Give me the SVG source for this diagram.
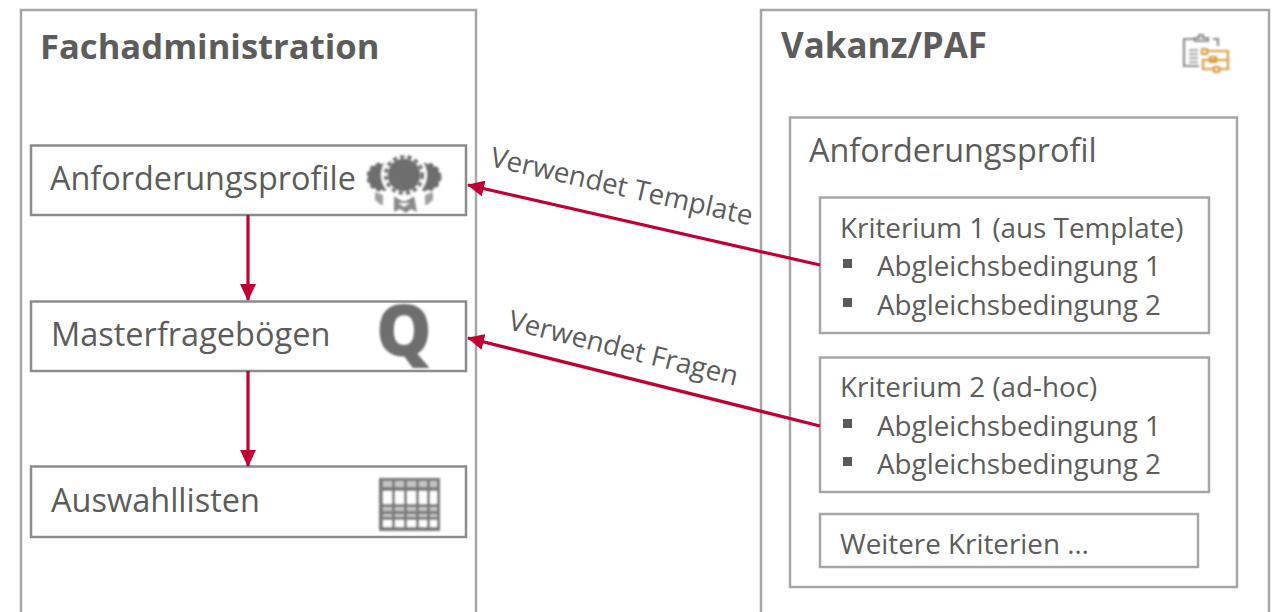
<svg xmlns="http://www.w3.org/2000/svg" width="1281" height="612" viewBox="0 0 1281 612">
<style>
.b{fill:#fff;stroke:#a6a6a6;stroke-width:2.5}
.d{fill:#fff;stroke:#8c8c8c;stroke-width:2.5}
text{font-family:"Open Sans","Noto Sans","Liberation Sans",sans-serif;fill:#5c5c5c}
.h{font-size:34.6px;font-weight:700}
.t{font-size:32.4px}
.s{font-size:27.8px}
.l{font-size:27.7px}
.c{stroke:#c00033;stroke-width:3.2;fill:none}
.bul{fill:#595959}
</style>
<defs>
<marker id="a" markerUnits="userSpaceOnUse" markerWidth="18" markerHeight="16" refX="16" refY="8" orient="auto"><path d="M0 0L17 8L0 16Z" fill="#c00033"/></marker>
<filter id="bl" x="-10%" y="-10%" width="120%" height="120%"><feGaussianBlur stdDeviation="0.9"/></filter>
</defs>
<rect width="1281" height="612" fill="#fff"/>
<g id="fachadministration">
<path class="b" d="M21 612V10H476V612" />
<text class="h" x="40" y="59">Fachadministration</text>
</g>
<g id="vakanz">
<path class="b" d="M761 612V10H1269V612" />
<text class="h" x="781" y="58" style="font-size:34.900px">Vakanz/PAF</text>
<g filter="url(#bl)" fill="none" stroke-width="2.200">
<path d="M1195 39H1184V66H1199M1213 39H1218V46" stroke="#8c8c8c"/>
<path d="M1195 41V38H1199V35H1203V38H1208V41Z" stroke="#8c8c8c"/>
<path d="M1189 50H1198M1189 54H1198M1189 58H1198M1189 62H1198" stroke="#a6a6a6"/>
<path d="M1202 49H1207V54H1202ZM1207 51H1228V60H1210M1210 57H1216V62H1210ZM1210 60H1203V69H1214M1214 67H1219V72H1214ZM1219 69H1228V61" stroke="#dc9a3c"/>
</g>
</g>
<g id="anforderungsprofil-box">
<rect class="b" x="790" y="117.500" width="447" height="469.500"/>
<text class="t" x="809" y="162">Anforderungsprofil</text>
</g>
<g id="kriterium1">
<rect class="b" x="820" y="197.500" width="389" height="135.500"/>
<text class="s" x="840" y="238">Kriterium 1 (aus Template)</text>
<rect class="bul" x="843" y="259" width="9" height="9"/>
<text class="s" x="877" y="276">Abgleichsbedingung 1</text>
<rect class="bul" x="843" y="298" width="9" height="9"/>
<text class="s" x="877" y="315">Abgleichsbedingung 2</text>
</g>
<g id="kriterium2">
<rect class="b" x="820" y="357.500" width="389" height="134.500"/>
<text class="s" x="840" y="397">Kriterium 2 (ad-hoc)</text>
<rect class="bul" x="843" y="419" width="9" height="9"/>
<text class="s" x="877" y="436">Abgleichsbedingung 1</text>
<rect class="bul" x="843" y="457" width="9" height="9"/>
<text class="s" x="877" y="474">Abgleichsbedingung 2</text>
</g>
<g id="weitere">
<rect class="b" x="820" y="514" width="378" height="53"/>
<text class="s" x="840" y="554">Weitere Kriterien …</text>
</g>
<g id="anforderungsprofile">
<rect class="d" x="31" y="145.500" width="435" height="69.500"/>
<text class="t" x="50" y="190">Anforderungsprofile</text>
<g filter="url(#bl)" fill="#6e6e6e">
<circle cx="381" cy="177" r="13"/>
<circle cx="427" cy="177" r="13"/>
<circle cx="381" cy="177" r="13" fill="none" stroke="#6e6e6e" stroke-width="3" stroke-dasharray="4 3"/>
<circle cx="427" cy="177" r="13" fill="none" stroke="#6e6e6e" stroke-width="3" stroke-dasharray="4 3"/>
<circle cx="404" cy="175" r="23" fill="#fff"/>
<path d="M375 192l8 3v10h-2l-6-5ZM433 192l-8 3v10h2l6-5Z" fill="#a0a0a0"/>
<path d="M394 196l8 5h4l8-5 3 16-6-3-5 4-6-4-6 3ZM398 203l6 4 6-4" fill="#8a8a8a"/>
<circle cx="404" cy="175" r="16.500"/>
<circle cx="404" cy="175" r="18.500" fill="none" stroke="#6e6e6e" stroke-width="3.500" stroke-dasharray="4.500 3"/>
</g>
</g>
<g id="masterfrageboegen">
<rect class="d" x="31" y="301.500" width="435" height="69.500"/>
<text class="t" x="51" y="346" style="font-size:32.500px">Masterfragebögen</text>
<text x="376" y="356" style="font-size:70px;font-weight:800;fill:#6e6e6e" filter="url(#bl)">Q</text>
</g>
<g id="auswahllisten">
<rect class="d" x="31" y="466.500" width="435" height="70.500"/>
<text class="t" x="51" y="512" style="font-size:32.500px">Auswahllisten</text>
<g filter="url(#bl)">
<rect x="379" y="478" width="61" height="53" fill="#7a7a7a"/>
<g fill="#fff">
<path d="M383 491h9v13h-9zM395 491h9v13h-9zM407 491h9v13h-9zM419 491h8v13h-8zM430 491h7v13h-7z"/>
<path d="M383 520h9v7h-9zM395 520h9v7h-9zM407 520h9v7h-9zM419 520h8v7h-8zM430 520h7v7h-7z"/>
</g>
<g fill="#c4c4c4">
<path d="M383 481h9v6h-9zM395 481h9v6h-9zM407 481h9v6h-9zM419 481h8v6h-8zM430 481h7v6h-7z"/>
<path d="M383 507h9v4h-9zM395 507h9v4h-9zM407 507h9v4h-9zM419 507h8v4h-8zM430 507h7v4h-7z"/>
<path d="M383 514h9v3h-9zM395 514h9v3h-9zM407 514h9v3h-9zM419 514h8v3h-8zM430 514h7v3h-7z"/>
</g>
</g>
</g>
<g id="connectors">
<path class="c" d="M248 215V300" marker-end="url(#a)"/>
<path class="c" d="M248 371V466" marker-end="url(#a)"/>
<path class="c" d="M820 265L468 185" marker-end="url(#a)"/>
<path class="c" d="M820 426L468 338" marker-end="url(#a)"/>
<text class="l" transform="translate(489 166) rotate(12.800)">Verwendet Template</text>
<text class="l" transform="translate(507 329) rotate(14)">Verwendet Fragen</text>
</g>
</svg>
